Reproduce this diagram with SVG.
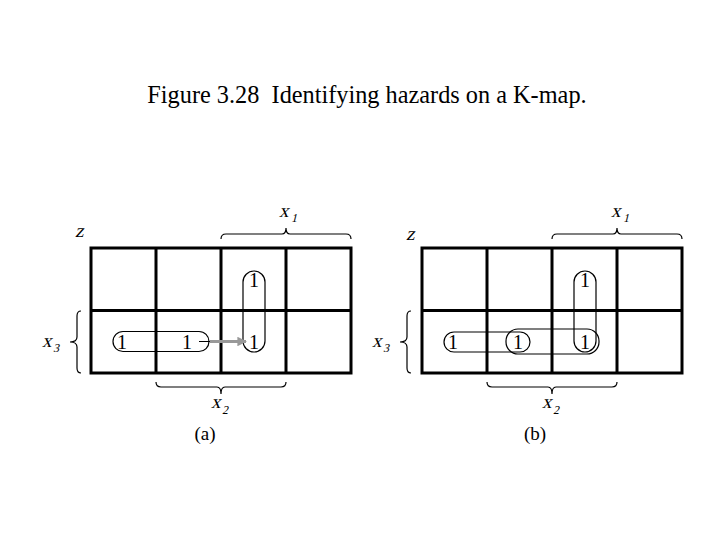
<svg xmlns="http://www.w3.org/2000/svg" width="720" height="540" viewBox="0 0 720 540">
<style>
.t{font-family:"Liberation Serif","Times New Roman",serif;fill:#000}
.grid{fill:none;stroke:#000;stroke-width:3}
.loop{fill:none;stroke:#000;stroke-width:1.2}
.br{fill:none;stroke:#000;stroke-width:1.2}
.one{font-family:"Liberation Serif","Times New Roman",serif;font-size:20px;text-anchor:middle}
.var{font-family:"Liberation Serif","Times New Roman",serif;font-size:19px}
.sub{font-family:"Liberation Serif","Times New Roman",serif;font-size:12px}
</style>
<defs>
<marker id="ah" viewBox="0 0 10 10" refX="9" refY="5" markerWidth="3.2" markerHeight="3.2" orient="auto">
<path d="M0,0 L10,5 L0,10 z" fill="#999"/>
</marker>
</defs>
<rect width="720" height="540" fill="#fff"/>
<text class="t" x="367" y="103" font-size="24.3" text-anchor="middle" xml:space="preserve">Figure 3.28  Identifying hazards on a K-map.</text>

<g id="map-a">
<rect class="grid" x="91" y="248" width="260" height="125"/>
<path class="grid" d="M156,248V373M221,248V373M286,248V373M91,310.5H351"/>
</g>
<g id="ones-a">
<text class="one" x="254" y="287">1</text>
<text class="one" x="122" y="349">1</text>
<text class="one" x="187" y="349">1</text>
<text class="one" x="254" y="349">1</text>
</g>
<g id="loops-a">
<rect class="loop" x="243" y="271" width="22" height="81" rx="11"/>
<rect class="loop" x="113" y="331.5" width="96" height="20" rx="10"/>
</g>
<g id="labels-a">
<text class="var" transform="translate(75,237) skewX(-14)" font-size="15">z</text>
<text class="var" transform="translate(279,217) skewX(-14)">x</text><text class="sub" transform="translate(291,222) skewX(-14)">1</text>
<text class="var" transform="translate(42,347) skewX(-14)">x</text><text class="sub" transform="translate(53,352) skewX(-14)">3</text>
<text class="var" transform="translate(211,408) skewX(-14)">x</text><text class="sub" transform="translate(222,414) skewX(-14)">2</text>
<text class="t" x="205" y="440" font-size="19" text-anchor="middle">(a)</text>
<path class="br" d="M221,239 Q221,234 226,234 L282,234 Q286,234 286,228 Q286,234 290,234 L346,234 Q351,234 351,239"/>
<path class="br" d="M81,311 Q77,311 77,316 L77,337 Q77,342 70,342 Q77,342 77,347 L77,368 Q77,373 81,373"/>
<path class="br" d="M156,382 Q156,387 161,387 L217,387 Q221,387 221,394 Q221,387 225,387 L281,387 Q286,387 286,382"/>
</g>
<g id="connectors">
<line x1="199" y1="341.5" x2="210" y2="341.5" stroke="#000" stroke-width="1"/>
<line x1="210" y1="341.5" x2="246" y2="341.5" stroke="#999" stroke-width="3" marker-end="url(#ah)"/>
</g>

<g id="map-b">
<rect class="grid" x="422" y="248" width="260" height="125"/>
<path class="grid" d="M487,248V373M552,248V373M617,248V373M422,310.5H682"/>
</g>
<g id="ones-b">
<text class="one" x="585" y="287">1</text>
<text class="one" x="453" y="349">1</text>
<text class="one" x="518" y="349">1</text>
<text class="one" x="585" y="349">1</text>
</g>
<g id="loops-b">
<rect class="loop" x="574" y="271" width="22" height="81" rx="11"/>
<rect class="loop" x="444" y="332" width="86" height="20" rx="10"/>
<rect class="loop" x="506" y="329" width="93" height="25" rx="12"/>
</g>
<g id="labels-b">
<text class="var" transform="translate(406,240) skewX(-14)" font-size="15">z</text>
<text class="var" transform="translate(611,217) skewX(-14)">x</text><text class="sub" transform="translate(623,222) skewX(-14)">1</text>
<text class="var" transform="translate(372,347) skewX(-14)">x</text><text class="sub" transform="translate(383,352) skewX(-14)">3</text>
<text class="var" transform="translate(542,408) skewX(-14)">x</text><text class="sub" transform="translate(553,414) skewX(-14)">2</text>
<text class="t" x="535" y="440" font-size="19" text-anchor="middle">(b)</text>
<path class="br" d="M552,239 Q552,234 557,234 L613,234 Q617,234 617,228 Q617,234 621,234 L677,234 Q682,234 682,239"/>
<path class="br" d="M411,311 Q407,311 407,316 L407,337 Q407,342 400,342 Q407,342 407,347 L407,368 Q407,373 411,373"/>
<path class="br" d="M487,382 Q487,387 492,387 L548,387 Q552,387 552,394 Q552,387 556,387 L612,387 Q617,387 617,382"/>
</g>
</svg>
